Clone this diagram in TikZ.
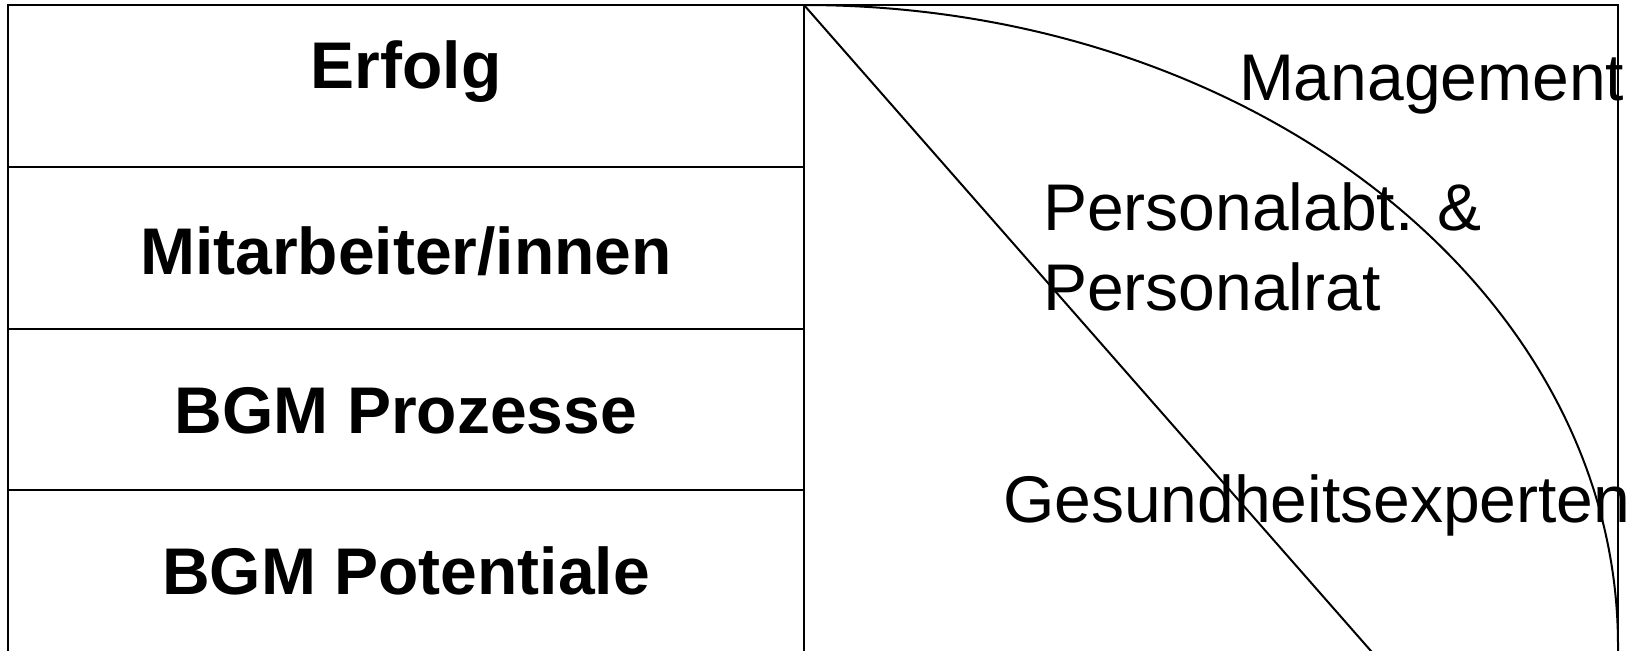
\documentclass[tikz,border=0pt]{standalone}
\usepackage{fontspec}
\setmainfont{Liberation Sans}
\begin{document}
\begin{tikzpicture}[x=0.5pt,y=-0.5pt,line width=1pt,
  lbl/.style={font=\bfseries\fontsize{33}{40}\selectfont,anchor=base,inner sep=0pt},
  rlbl/.style={font=\fontsize{33}{40}\selectfont,anchor=base west,inner sep=0pt}]
\useasboundingbox (0,0) rectangle (1639,650);
\clip (0,0) rectangle (1639,650);
% coordinates
\coordinate (tl) at (8,5);
\coordinate (bl) at (8,700);
\coordinate (tm) at (804,5);
\coordinate (bm) at (804,700);
\coordinate (tr) at (1618,5);
\coordinate (br) at (1618,700);
\coordinate (r1l) at (8,167);   \coordinate (r1r) at (804,167);
\coordinate (r2l) at (8,329);   \coordinate (r2r) at (804,329);
\coordinate (r3l) at (8,490);   \coordinate (r3r) at (804,490);
\coordinate (dend) at (1414,700);
\coordinate (cend) at (1618,646);
% left table
\draw (bl) -- (tl) -- (tm);
\draw (r1l) -- (r1r);
\draw (r2l) -- (r2r);
\draw (r3l) -- (r3r);
% right box
\draw (bm) -- (tm) -- (tr) -- (br);
% diagonal
\draw (tm) -- (dend);
% quarter ellipse
\draw (tm) .. controls (1253.6,5) and (1618,291.4) .. (cend) -- (br);
% left labels
\node[lbl] (erfolg) at (406,88) {Erfolg};
\node[lbl] (mit) at (406,274) {Mitarbeiter/innen};
\node[lbl] (proz) at (406,433) {BGM Prozesse};
\node[lbl] (pot) at (406,594) {BGM Potentiale};
% right labels
\node[rlbl] (mgmt) at (1238,100) {Management};
\node[rlbl] (pa1) at (1042,230) {Personalabt. \&};
\node[rlbl] (pa2) at (1042,310) {Personalrat};
\node[rlbl] (ges) at (1002,522) {Gesundheitsexperten};
\end{tikzpicture}
\end{document}
